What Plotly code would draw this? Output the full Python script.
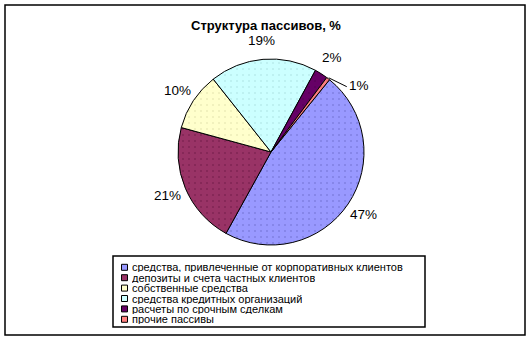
import math
import plotly.graph_objects as go

categories = [
    "средства, привлеченные от корпоративных клиентов",
    "депозиты и счета частных клиентов",
    "собственные средства",
    "средства кредитных организаций",
    "расчеты по срочным сделкам",
    "прочие пассивы",
]
values = [47.2, 21.2, 10.1, 18.6, 2.3, 0.6]
colors = ["#9999FF", "#993366", "#FFFFCC", "#CCFFFF", "#660066", "#FF8080"]
dotcolors = ["#444499", "#440022", "#BBBB88", "#88BBBB", "#330033", "#CC4444"]
start_angle = 39  # degrees clockwise from 12 o'clock

total = sum(values)
labels_txt = [f"{round(v / total * 100)}%" for v in values]

W, H = 532, 341
ml, mr, mt, mb = 5, 7, 5, 6
pw, ph = W - ml - mr, H - mt - mb
cx, cy, r = 271, 152, 93


def px(x):
    return (x - ml) / pw


def py(y):
    return (H - mb - y) / ph


fig = go.Figure(
    go.Pie(
        labels=categories,
        values=values,
        textinfo="none",
        sort=False,
        direction="clockwise",
        rotation=start_angle,
        marker=dict(
            colors=colors,
            line=dict(color="black", width=1),
            pattern=dict(shape=".", fgcolor=dotcolors, bgcolor=colors,
                         size=6, solidity=0.06, fillmode="overlay"),
        ),
        domain=dict(x=[px(cx - r), px(cx + r)], y=[py(cy + r), py(cy - r)]),
        hoverinfo="label+percent",
        showlegend=False,
    )
)

annotations = []
shapes = []
# data labels placed around the pie from the cumulative angles
cum = 0.0
for v, t in zip(values, labels_txt):
    mid = start_angle + (cum + v / 2) / total * 360
    cum += v
    small = v / total < 0.01
    ang = mid + (15 if small else 0)
    d = 110 if small else 112
    lx = cx + d * math.sin(math.radians(ang))
    ly = cy - d * math.cos(math.radians(ang))
    annotations.append(dict(
        x=px(lx), y=py(ly), xref="paper", yref="paper", text=t, showarrow=False,
        font=dict(family="Liberation Sans, Arial", size=13.5, color="black"),
        xanchor="center", yanchor="middle",
    ))
    if small:
        ex = cx + (r + 1) * math.sin(math.radians(mid))
        ey = cy - (r + 1) * math.cos(math.radians(mid))
        shapes.append(dict(type="line", xref="paper", yref="paper",
                           x0=px(ex), y0=py(ey), x1=px(lx - 12), y1=py(ly + 1),
                           line=dict(color="black", width=1)))

# legend box built from the categories and colours
lx0, lx1, ly0, ly1 = 113, 425, 256, 327
shapes.append(dict(type="rect", xref="paper", yref="paper",
                   x0=px(lx0), x1=px(lx1), y0=py(ly1), y1=py(ly0),
                   line=dict(color="black", width=1.5), fillcolor="white"))
row0, step = 267.3, 10.4
for i, (c, col) in enumerate(zip(categories, colors)):
    yc = row0 + i * step
    shapes.append(dict(type="rect", xref="paper", yref="paper",
                       x0=px(121.5), x1=px(127.5), y0=py(yc + 3), y1=py(yc - 3),
                       line=dict(color="black", width=1), fillcolor=col))
    annotations.append(dict(
        x=px(131), y=py(yc), xref="paper", yref="paper", text=c, showarrow=False,
        font=dict(family="Liberation Sans, Arial", size=11, color="black"),
        xanchor="left", yanchor="middle", height=10, borderpad=0,
    ))

# outer chart border
shapes.append(dict(type="rect", xref="paper", yref="paper", x0=0, y0=0, x1=1, y1=1,
                   line=dict(color="black", width=1.5)))

fig.update_layout(
    width=W,
    height=H,
    margin=dict(l=ml, r=mr, t=mt, b=mb, autoexpand=False),
    paper_bgcolor="white",
    plot_bgcolor="white",
    font=dict(family="Liberation Sans, Arial", color="black"),
    title=dict(
        text="<b>Структура пассивов, %</b>",
        x=266 / W,
        xanchor="center",
        y=1 - 25 / H,
        yanchor="middle",
        font=dict(size=13, family="Liberation Sans, Arial", color="black"),
    ),
    showlegend=False,
    annotations=annotations,
    shapes=shapes,
)

fig.write_html("out.html")
